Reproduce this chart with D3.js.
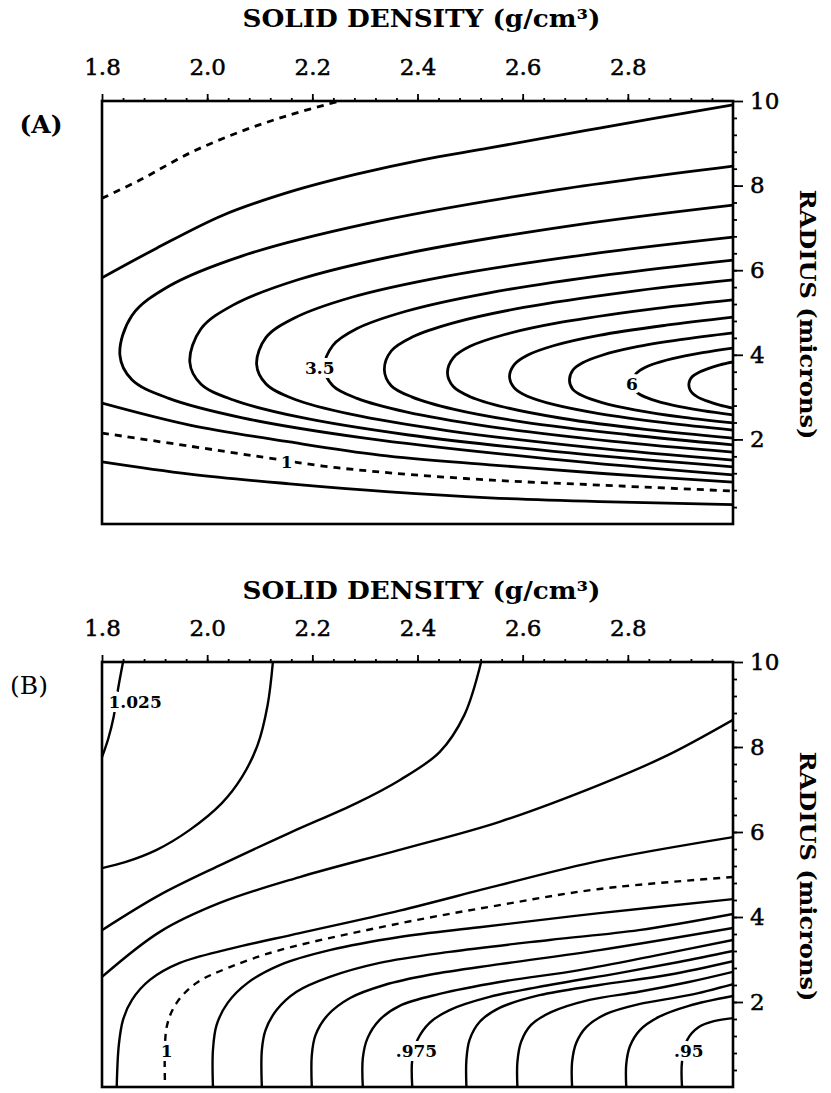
<!DOCTYPE html>
<meta charset="utf-8">
<head>
	<title>Solid density / radius contours</title>
	<script type="text/javascript" src="https://cdn.jsdelivr.net/npm/d3@7/dist/d3.min.js"></script>
	<style>
		body { margin: 0; background: #fff; }
		svg text { font-family: "DejaVu Serif", serif; fill: #000; }
		.frame { fill: none; stroke: #000; stroke-width: 2.6; }
		.contour { fill: none; stroke: #000; stroke-linejoin: round; }
		.axis path { display: none; }
		.axis line { stroke: #000; stroke-width: 1.8; }
		.axis text { stroke: #000; stroke-width: 0.5; }
		.clabel { font-weight: bold; font-size: 17px; stroke: #fff; stroke-width: 8; paint-order: stroke; text-anchor: middle; }
	</style>
</head>

<body>
<div id="chart"></div>

<script>
	// axes
	var densityDomain = [1.8, 3.0];
	var radiusDomain = [0, 10];
	var densityTicks = [1.8, 2.0, 2.2, 2.4, 2.6, 2.8];
	var radiusTicks = [2, 4, 6, 8, 10];

	// panel (A): contour level + points [density, radius]
	var levelsA = [1, 1, 0.5, 1.5, 1.5, 2, 2.5, 3, 3.5, 4, 4.5, 5, 5.5, 6, 6.5];
	var linesA = [
		[[1.8,7.7],[1.872,8.13],[1.967,8.77],[2.062,9.27],[2.157,9.67],[2.252,10.0]],
		[[1.8,2.15],[1.967,1.84],[2.106,1.58],[2.22,1.37],[2.347,1.21],[2.537,1.04],[2.746,0.92],[3.0,0.78]],
		[[1.8,1.47],[1.967,1.18],[2.157,0.95],[2.347,0.76],[2.537,0.62],[2.746,0.53],[3.0,0.46]],
		[[1.8,5.82],[1.904,6.52],[2.030,7.30],[2.157,7.85],[2.284,8.27],[2.409,8.61],[2.537,8.89],[2.746,9.36],[3.0,9.91]],
		[[1.8,2.86],[1.967,2.34],[2.157,1.94],[2.328,1.63],[2.537,1.40],[2.746,1.20],[3.0,0.99]],
		[[3.0,8.46],[2.65,7.87],[2.30,7.09],[2.067,6.34],[1.927,5.62],[1.857,4.93],[1.834,4.0],[1.857,3.41],[1.927,2.97],[2.067,2.51],[2.30,2.03],[2.65,1.54],[3.0,1.16]],
		[[3.0,7.54],[2.69,7.05],[2.38,6.40],[2.174,5.78],[2.05,5.18],[1.988,4.61],[1.967,3.83],[1.988,3.31],[2.05,2.93],[2.174,2.53],[2.38,2.11],[2.69,1.68],[3.0,1.35]],
		[[3.0,6.78],[2.728,6.38],[2.456,5.86],[2.275,5.36],[2.166,4.87],[2.112,4.41],[2.094,3.78],[2.112,3.31],[2.166,2.95],[2.275,2.59],[2.456,2.21],[2.728,1.81],[3.0,1.51]],
		[[3.0,6.24],[2.767,5.90],[2.534,5.46],[2.378,5.03],[2.285,4.62],[2.239,4.22],[2.223,3.69],[2.239,3.27],[2.285,2.97],[2.378,2.65],[2.534,2.31],[2.767,1.96],[3.0,1.70]],
		[[3.0,5.77],[2.801,5.49],[2.602,5.12],[2.47,4.76],[2.39,4.42],[2.35,4.09],[2.337,3.64],[2.35,3.27],[2.39,3.0],[2.47,2.71],[2.602,2.41],[2.801,2.11],[3.0,1.87]],
		[[3.0,5.30],[2.837,5.07],[2.674,4.77],[2.566,4.48],[2.50,4.20],[2.468,3.93],[2.457,3.57],[2.468,3.25],[2.50,3.01],[2.566,2.76],[2.674,2.50],[2.837,2.23],[3.0,2.03]],
		[[3.0,4.89],[2.873,4.70],[2.745,4.46],[2.66,4.22],[2.609,3.99],[2.584,3.77],[2.575,3.48],[2.584,3.22],[2.609,3.02],[2.66,2.82],[2.745,2.61],[2.873,2.39],[3.0,2.22]],
		[[3.0,4.52],[2.907,4.37],[2.813,4.18],[2.751,3.99],[2.714,3.81],[2.695,3.63],[2.689,3.40],[2.695,3.19],[2.714,3.03],[2.751,2.87],[2.813,2.70],[2.907,2.52],[3.0,2.39]],
		[[3.0,4.16],[2.942,4.05],[2.885,3.91],[2.846,3.77],[2.823,3.63],[2.812,3.50],[2.808,3.33],[2.812,3.17],[2.823,3.06],[2.846,2.94],[2.885,2.81],[2.942,2.68],[3.0,2.58]],
		[[3.0,3.83],[2.975,3.76],[2.95,3.66],[2.933,3.57],[2.923,3.49],[2.918,3.40],[2.916,3.29],[2.918,3.18],[2.923,3.09],[2.933,3.0],[2.95,2.91],[2.975,2.81],[3.0,2.74]]
	];
	var labelsA = [
		{text: "3.5", d: 2.214, r: 3.69},
		{text: "6", d: 2.808, r: 3.31},
		{text: "1", d: 2.151, r: 1.47}
	];

	// panel (B)
	var levelsB = [1.025, 1.02, 1.015, 1.01, 1.005, 1, 0.995, 0.99, 0.985, 0.98, 0.975, 0.97, 0.965, 0.96, 0.955, 0.95];
	var linesB = [
		[[1.840,10.0],[1.831,9.4],[1.822,8.7],[1.812,8.2],[1.8,7.76]],
		[[2.125,10.0],[2.115,8.99],[2.096,8.05],[2.066,7.29],[2.028,6.68],[1.967,6.05],[1.904,5.58],[1.844,5.29],[1.8,5.15]],
		[[2.521,10.0],[2.489,8.75],[2.442,7.88],[2.366,7.22],[2.284,6.68],[2.157,5.98],[2.030,5.25],[1.910,4.52],[1.8,3.69]],
		[[3.0,8.64],[2.873,7.79],[2.746,7.11],[2.556,6.24],[2.366,5.58],[2.176,4.94],[2.024,4.33],[1.910,3.65],[1.8,2.59]],
		[[3.0,5.88],[2.746,5.32],[2.556,4.75],[2.366,4.15],[2.176,3.62],[2.043,3.25],[1.948,2.92],[1.891,2.52],[1.857,2.05],[1.840,1.58],[1.832,0.99],[1.828,0]],
		[[3.0,4.94],[2.746,4.66],[2.556,4.28],[2.366,3.85],[2.138,3.22],[2.043,2.82],[1.980,2.45],[1.942,1.98],[1.923,1.41],[1.920,0]],
		[[2.011,0],[2.011,0.87],[2.018,1.46],[2.039,1.98],[2.077,2.45],[2.138,2.87],[2.233,3.22],[2.366,3.53],[2.518,3.76],[2.746,4.09],[3.0,4.42]],
		[[2.104,0],[2.104,0.87],[2.111,1.34],[2.132,1.81],[2.170,2.24],[2.233,2.59],[2.328,2.92],[2.461,3.18],[2.651,3.46],[2.821,3.69],[3.0,4.07]],
		[[2.199,0],[2.199,0.75],[2.206,1.22],[2.229,1.69],[2.271,2.09],[2.337,2.40],[2.423,2.64],[2.556,2.89],[2.746,3.22],[3.0,3.74]],
		[[2.296,0],[2.296,0.68],[2.305,1.15],[2.328,1.58],[2.366,1.91],[2.442,2.19],[2.556,2.47],[2.708,2.75],[2.859,3.11],[3.0,3.46]],
		[[2.390,0],[2.390,0.64],[2.400,1.11],[2.423,1.51],[2.461,1.81],[2.537,2.12],[2.651,2.40],[2.783,2.68],[2.897,2.94],[3.0,3.20]],
		[[2.493,0],[2.493,0.64],[2.499,1.11],[2.518,1.53],[2.556,1.86],[2.632,2.16],[2.746,2.40],[2.878,2.64],[3.0,2.96]],
		[[2.590,0],[2.590,0.59],[2.597,1.06],[2.616,1.46],[2.654,1.76],[2.727,2.05],[2.821,2.24],[2.916,2.47],[3.0,2.71]],
		[[2.694,0],[2.694,0.59],[2.702,1.04],[2.721,1.41],[2.759,1.72],[2.821,1.95],[2.916,2.16],[3.0,2.42]],
		[[2.797,0],[2.797,0.54],[2.804,0.96],[2.823,1.34],[2.859,1.65],[2.916,1.91],[3.0,2.14]],
		[[2.903,0],[2.903,0.59],[2.913,1.11],[2.935,1.41],[2.964,1.55],[3.0,1.62]]
	];
	var labelsB = [
		{text: "1.025", d: 1.863, r: 9.06},
		{text: "1", d: 1.923, r: 0.84},
		{text: ".975", d: 2.398, r: 0.84},
		{text: ".95", d: 2.916, r: 0.86}
	];

	var width = 831, height = 1093;
	var left = 102, right = 733;

	var svg = d3.select("#chart").append("svg")
		.attr("width", width)
		.attr("height", height);

	var x = d3.scaleLinear().domain(densityDomain).range([left, right]);

	function drawPanel(id, top, bottom, titleGap, levels, lines, labels, lineWidth, letter, letterBold) {
		var y = d3.scaleLinear().domain(radiusDomain).range([bottom, top]);
		var g = svg.append("g").attr("id", id);

		g.append("clipPath").attr("id", "clip-" + id)
			.append("rect")
			.attr("x", left).attr("y", top)
			.attr("width", right - left).attr("height", bottom - top);

		var line = d3.line()
			.x(function(d) { return x(d[0]); })
			.y(function(d) { return y(d[1]); })
			.curve(d3.curveCatmullRom.alpha(0.5));

		g.append("g")
			.attr("clip-path", "url(#clip-" + id + ")")
			.selectAll("path")
			.data(lines)
			.enter().append("path")
			.attr("class", "contour")
			.attr("stroke-width", lineWidth)
			.attr("stroke-dasharray", function(d, i) { return levels[i] === 1 ? "7,6" : null; })
			.attr("d", line);

		// contour labels (white halo breaks the line)
		g.selectAll(".clabel")
			.data(labels)
			.enter().append("text")
			.attr("class", "clabel")
			.attr("x", function(d) { return x(d.d); })
			.attr("y", function(d) { return y(d.r); })
			.attr("dy", "0.36em")
			.text(function(d) { return d.text; });

		// frame
		g.append("rect")
			.attr("class", "frame")
			.attr("x", left).attr("y", top)
			.attr("width", right - left).attr("height", bottom - top);

		// top axis
		g.append("g")
			.attr("class", "axis")
			.attr("transform", "translate(0," + top + ")")
			.call(d3.axisTop(x).tickValues(d3.range(1.84, 3.0, 0.04)).tickSize(3).tickFormat(""));
		var xa = g.append("g")
			.attr("class", "axis")
			.attr("transform", "translate(0," + top + ")")
			.call(d3.axisTop(x).tickValues(densityTicks).tickSize(7).tickPadding(19).tickFormat(d3.format(".1f")));
		xa.selectAll("text").attr("font-size", 23).attr("font-family", "DejaVu Serif");

		// right axis
		g.append("g")
			.attr("class", "axis")
			.attr("transform", "translate(" + right + ",0)")
			.call(d3.axisRight(y).tickValues(d3.range(0.4, 10, 0.4)).tickSize(4).tickFormat(""));
		var ya = g.append("g")
			.attr("class", "axis")
			.attr("transform", "translate(" + right + ",0)")
			.call(d3.axisRight(y).tickValues(radiusTicks).tickSize(10).tickPadding(7));
		ya.selectAll("text").attr("font-size", 23).attr("font-family", "DejaVu Serif");

		// axis titles
		g.append("text")
			.attr("x", (left + right) / 2 + 4)
			.attr("y", top - titleGap)
			.attr("text-anchor", "middle")
			.attr("font-size", 24)
			.attr("font-weight", "bold")
			.attr("textLength", 358)
			.attr("lengthAdjust", "spacingAndGlyphs")
			.text("SOLID DENSITY (g/cm³)");

		g.append("text")
			.attr("transform", "translate(808," + ((top + bottom) / 2 + 2) + ") rotate(90)")
			.attr("text-anchor", "middle")
			.attr("dy", "0.35em")
			.attr("font-size", 22)
			.attr("font-weight", "bold")
			.attr("textLength", 250)
			.attr("lengthAdjust", "spacingAndGlyphs")
			.text("RADIUS (microns)");

		g.append("text")
			.attr("x", letterBold ? 41 : 29)
			.attr("y", top + 32)
			.attr("text-anchor", "middle")
			.attr("font-size", 25)
			.attr("font-weight", letterBold ? "bold" : "normal")
			.text(letter);
	}

	drawPanel("panelA", 101, 524, 74, levelsA, linesA, labelsA, 2.8, "(A)", true);
	drawPanel("panelB", 662, 1087, 63, levelsB, linesB, labelsB, 2.4, "(B)", false);
</script>
</body>
